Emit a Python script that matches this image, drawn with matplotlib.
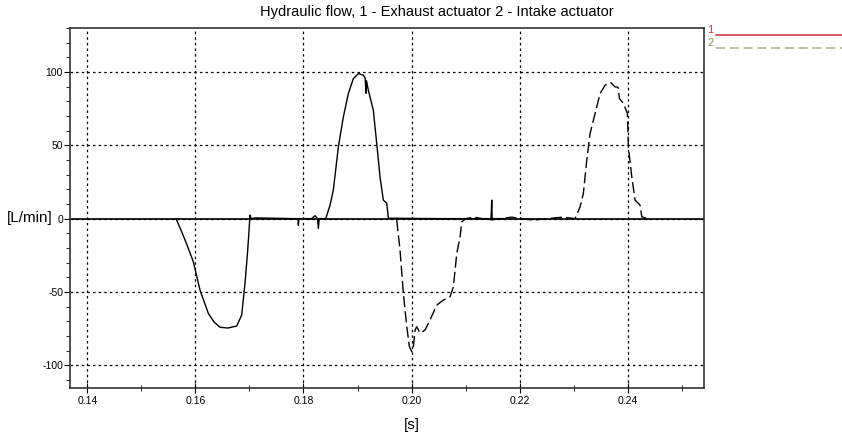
import numpy as np
import matplotlib
matplotlib.use("Agg")
import matplotlib.pyplot as plt
from matplotlib.lines import Line2D
from matplotlib.ticker import MultipleLocator, FormatStrFormatter

plt.rcParams['font.family'] = ['Liberation Sans', 'DejaVu Sans']
plt.rcParams['axes.unicode_minus'] = False

# series 1 - exhaust actuator (solid)
t1 = [0.15641, 0.15747, 0.15845, 0.15962, 0.16085, 0.16239, 0.16345, 0.16456,
      0.16604, 0.16765, 0.16857, 0.16918, 0.16968, 0.17011, 0.17030, 0.17120,
      0.17800, 0.17900, 0.17905, 0.17915, 0.18150, 0.18214, 0.18260, 0.18275,
      0.18290, 0.18412, 0.18491, 0.18552, 0.18645, 0.18737, 0.18830, 0.18922,
      0.19015, 0.19107, 0.19140, 0.19157, 0.19166, 0.19200, 0.19292, 0.19355,
      0.19416, 0.19477, 0.19540, 0.19570, 0.20500, 0.21470, 0.21483, 0.21490,
      0.21700]
q1 = [0, -9, -18, -29.4, -48.7, -64.6, -70.5, -74.1,
      -74.6, -73.2, -65.7, -43.9, -21.5, 2.4, 0, 0.5,
      0, 0, -4.5, 0, 0, 2, 0, -6.7,
      0, 0, 9.2, 19.4, 48.9, 69.3, 85.3, 95.5,
      98.9, 97.8, 96, 85.5, 94, 87.5, 73.9, 51.2,
      28.5, 12.6, 10.6, 0.3, 0, 0, 12.6, 0,
      0]

# series 2 - intake actuator (dashed)
t2 = [0.19725, 0.19786, 0.19848, 0.19911, 0.19959, 0.20003, 0.20033, 0.20064,
      0.20095, 0.20157, 0.20249, 0.20342, 0.20466, 0.20588, 0.20712, 0.20773,
      0.20836, 0.20897, 0.20928, 0.21000, 0.21150, 0.21300, 0.21450, 0.21650,
      0.21850, 0.22050, 0.22250, 0.22500, 0.22800, 0.23025, 0.23117, 0.23178,
      0.23241, 0.23302, 0.23395, 0.23487, 0.23580, 0.23685, 0.23765, 0.23820,
      0.23845, 0.23919, 0.23993, 0.24011, 0.24074, 0.24135, 0.24228, 0.24259,
      0.24376]
q2 = [-1, -21.5, -51, -73.7, -87.3, -90.7, -87.3, -76,
      -73.7, -78, -76, -69, -59, -55.5, -53.3, -46.5,
      -23.7, -12.4, -2.2, 0, 1, 0, -1, 0,
      1, 0, -1, 0, 1, 0, 8, 17.2,
      39.9, 58, 71.7, 85.3, 91, 92.8, 89.8, 89.6,
      81.9, 78.5, 71.7, 48.9, 28.5, 12.6, 9.2, 1.2,
      0]

x_ticks = [0.14, 0.16, 0.18, 0.20, 0.22, 0.24]
y_ticks = [-100, -50, 0, 50, 100]

fig = plt.figure(figsize=(8.42, 4.40), dpi=100)
ax = fig.add_axes([70 / 842, 1 - 388 / 440, 634 / 842, 360 / 440])

ax.set_xlim(0.1368, 0.2541)
ax.set_ylim(-115.5, 130)

ax.grid(True, which='major', color='black', linestyle=(0, (2, 2.5)), linewidth=0.9)
ax.axhline(0, color='black', linewidth=1.2, zorder=2)

ax.plot(t1, q1, color='black', linewidth=1.0, zorder=3)
ax.plot(t2, q2, color='black', linewidth=1.0, dashes=(8, 3), zorder=3)

ax.set_xticks(x_ticks)
ax.set_yticks(y_ticks)
ax.xaxis.set_major_formatter(FormatStrFormatter('%.2f'))
ax.xaxis.set_minor_locator(MultipleLocator(0.01))
ax.yaxis.set_minor_locator(MultipleLocator(10))
ax.tick_params(axis='x', which='major', direction='inout', length=7, labelsize=7.5, pad=2)
ax.tick_params(axis='x', which='minor', direction='inout', length=5)
ax.tick_params(axis='y', which='major', direction='out', length=4, labelsize=7.5, pad=1)
ax.tick_params(axis='y', which='minor', direction='out', length=3)
for s in ax.spines.values():
    s.set_color('#333333')
    s.set_linewidth(1.2)

fig.text(437 / 842, 1 - 12 / 440, 'Hydraulic flow, 1 - Exhaust actuator 2 - Intake actuator',
         fontsize=10.5, ha='center', va='center')
ax.set_xlabel('[s]', fontsize=11)
ax.xaxis.set_label_coords(0.5386, -0.082)
ax.set_ylabel('[L/min]', fontsize=11, rotation=0, ha='right', va='center')
ax.yaxis.set_label_coords(-0.028, 0.471)

# legend outside on the right
for y_px, col, lcol, lab, ls in [(35, '#c83c50', '#c8323c', '1', '-'),
                                 (48, '#8c9a50', '#a8ad8a', '2', (0, (6, 3)))]:
    y = 1 - y_px / 440
    fig.add_artist(Line2D([716 / 842, 1.0], [y, y], color=lcol, linewidth=1.1, linestyle=ls))
    fig.text(707 / 842, y, lab, color=col, fontsize=8, ha='left', va='bottom')

fig.savefig('out.png', dpi=100)
